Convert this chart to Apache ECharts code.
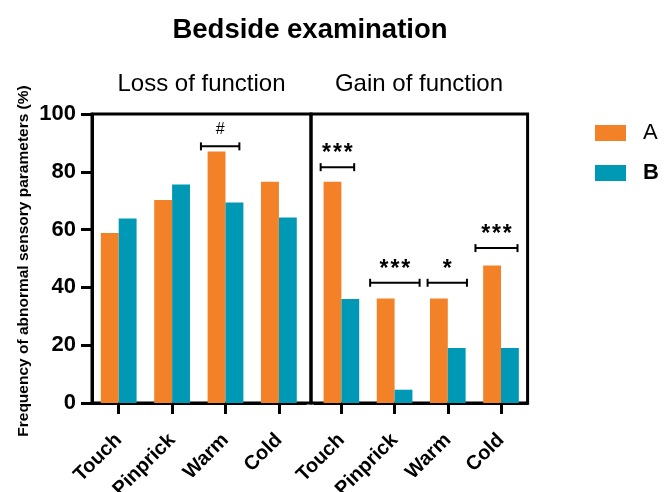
<!DOCTYPE html>
<html><head><meta charset="utf-8">
<script src="https://cdn.jsdelivr.net/npm/echarts@6/dist/echarts.min.js"></script>
<style>html,body{margin:0;padding:0;background:#fff}#c{width:667px;height:492px}</style>
</head><body><div id="c"></div>
<script>
const categories = ['Touch', 'Pinprick', 'Warm', 'Cold'];
const lossA = [58.8, 70.2, 87.0, 76.6];
const lossB = [63.8, 75.6, 69.4, 64.2];
const gainA = [76.6, 36.2, 36.2, 47.6];
const gainB = [36.0, 4.6, 19.0, 19.0];
const yTicks = [0, 20, 40, 60, 80, 100];
// significance annotations: [category index, bracket value, label]
const lossSig = [[2, 88.8, '#']];
const gainSig = [[0, 81.6, '***'], [1, 41.6, '***'], [2, 41.6, '*'], [3, 53.6, '***']];
// bracket extents relative to category centre (fraction of category width)
const lossSpan = [[-0.46, 0.26]];
const gainSpan = [[-0.39, 0.24], [-0.46, 0.47], [-0.38, 0.36], [-0.48, 0.31]];

const FONT = '"Liberation Sans", Arial, Helvetica, sans-serif';
const ORANGE = '#F28128';
const TEAL = '#0099B5';

function sigRenderer(sig, spans) {
  return function (params, api) {
    const i = params.dataIndex;
    const p = api.coord([sig[i][0], sig[i][1]]);
    const w = api.size([1, 0])[0];
    const x1 = p[0] + spans[i][0] * w;
    const x2 = p[0] + spans[i][1] * w;
    const y = p[1];
    const label = sig[i][2];
    const isHash = label === '#';
    const txt = isHash ? label : label.split('').join('\u200A');
    return {
      type: 'group',
      children: [
        {type: 'line', shape: {x1: x1, y1: y, x2: x2, y2: y}, style: {stroke: '#000', lineWidth: 2}},
        {type: 'line', shape: {x1: x1, y1: y - 4, x2: x1, y2: y + 4}, style: {stroke: '#000', lineWidth: 2}},
        {type: 'line', shape: {x1: x2, y1: y - 4, x2: x2, y2: y + 4}, style: {stroke: '#000', lineWidth: 2}},
        {type: 'text', x: (x1 + x2) / 2, y: y - (isHash ? 9 : 2),
         style: {text: txt, fill: '#000', align: 'center', verticalAlign: 'bottom',
                 font: (isHash ? 'normal 16px ' : 'bold 23px ') + FONT}}
      ]
    };
  };
}

const axisLabelX = {rotate: 45, fontSize: 20, fontWeight: 'bold', color: '#000', fontFamily: FONT, margin: 34, interval: 0};
const tickX = {show: true, alignWithLabel: true, length: 11, lineStyle: {color: '#000', width: 3}};
const lineX = {show: true, lineStyle: {color: '#000', width: 3}};
const chart = echarts.init(document.getElementById('c'), null, {renderer: 'canvas'});
chart.setOption({
  animation: false,
  backgroundColor: '#fff',
  title: [
    {text: 'Bedside examination', left: 305, top: 11, textAlign: 'center',
     textStyle: {fontSize: 27.5, fontWeight: 'bold', color: '#000', fontFamily: FONT}},
    {text: 'Loss of function', left: 196.5, top: 67, textAlign: 'center',
     textStyle: {fontSize: 24, fontWeight: 'normal', color: '#000', fontFamily: FONT}},
    {text: 'Gain of function', left: 414, top: 67, textAlign: 'center',
     textStyle: {fontSize: 24, fontWeight: 'normal', color: '#000', fontFamily: FONT}}
  ],
  graphic: [
    {type: 'text', x: 24, y: 261, rotation: Math.PI / 2,
     style: {text: 'Frequency of abnormal sensory parameters (%)', fill: '#000', align: 'center', verticalAlign: 'middle',
             font: 'bold 15.5px ' + FONT}}
  ],
  legend: {
    orient: 'vertical', left: 590, top: 117, icon: 'rect', itemWidth: 31, itemHeight: 16, itemGap: 18,
    textStyle: {fontSize: 22, color: '#000', fontFamily: FONT, padding: [0, 0, 0, 12]},
    data: [{name: 'A'}, {name: 'B', textStyle: {fontWeight: 'bold'}}]
  },
  grid: [
    {left: 92, width: 213.6, top: 114, height: 289, show: false, outerBoundsMode: 'none', containLabel: false},
    {left: 314.8, width: 212.8, top: 114, height: 289, show: false, outerBoundsMode: 'none', containLabel: false},
    {left: 92, width: 219, top: 114, height: 289, show: true, borderColor: '#000', borderWidth: 3, backgroundColor: 'transparent', outerBoundsMode: 'none'},
    {left: 311, width: 216.6, top: 114, height: 289, show: true, borderColor: '#000', borderWidth: 3, backgroundColor: 'transparent', outerBoundsMode: 'none'}
  ],
  xAxis: [
    {type: 'category', gridIndex: 0, data: categories, axisLine: lineX, axisTick: tickX, axisLabel: axisLabelX},
    {type: 'category', gridIndex: 1, data: categories, axisLine: lineX, axisTick: tickX, axisLabel: axisLabelX},
    {type: 'value', gridIndex: 2, show: false},
    {type: 'value', gridIndex: 3, show: false}
  ],
  yAxis: [
    {type: 'value', gridIndex: 0, min: yTicks[0], max: yTicks[yTicks.length - 1], interval: 20,
     axisLine: {show: true, lineStyle: {color: '#000', width: 3}},
     axisTick: {show: true, length: 11, lineStyle: {color: '#000', width: 3}},
     axisLabel: {fontSize: 22, fontWeight: 'bold', color: '#000', fontFamily: FONT, margin: 16},
     splitLine: {show: false}},
    {type: 'value', gridIndex: 1, min: yTicks[0], max: yTicks[yTicks.length - 1], interval: 20,
     axisLine: {show: false}, axisTick: {show: false}, axisLabel: {show: false}, splitLine: {show: false}},
    {type: 'value', gridIndex: 2, show: false},
    {type: 'value', gridIndex: 3, show: false}
  ],
  series: [
    {name: 'A', type: 'bar', xAxisIndex: 0, yAxisIndex: 0, data: lossA, itemStyle: {color: ORANGE}, barGap: '0%', barCategoryGap: '33%'},
    {name: 'B', type: 'bar', xAxisIndex: 0, yAxisIndex: 0, data: lossB, itemStyle: {color: TEAL}, barGap: '0%', barCategoryGap: '33%'},
    {name: 'A', type: 'bar', xAxisIndex: 1, yAxisIndex: 1, data: gainA, itemStyle: {color: ORANGE}, barGap: '0%', barCategoryGap: '33%'},
    {name: 'B', type: 'bar', xAxisIndex: 1, yAxisIndex: 1, data: gainB, itemStyle: {color: TEAL}, barGap: '0%', barCategoryGap: '33%'},
    {type: 'custom', xAxisIndex: 0, yAxisIndex: 0, renderItem: sigRenderer(lossSig, lossSpan), data: lossSig, z: 10, silent: true},
    {type: 'custom', xAxisIndex: 1, yAxisIndex: 1, renderItem: sigRenderer(gainSig, gainSpan), data: gainSig, z: 10, silent: true}
  ]
});
</script>
</body></html>
